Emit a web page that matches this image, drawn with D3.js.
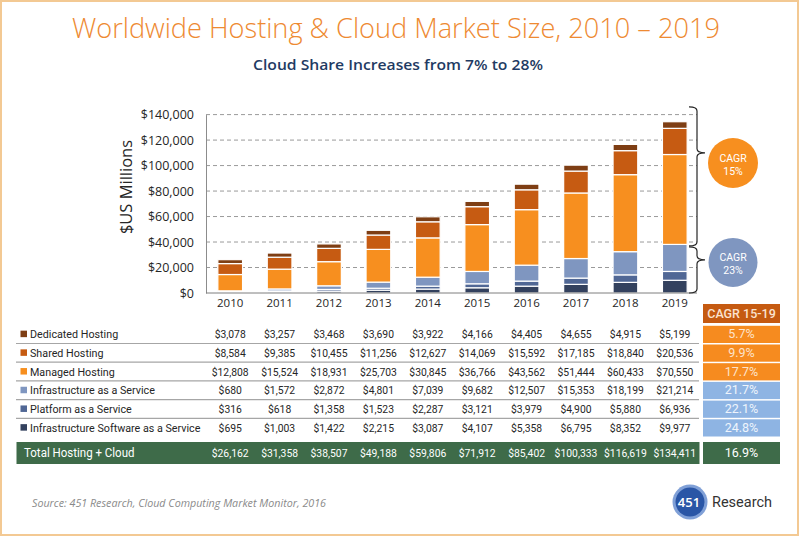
<!DOCTYPE html>
<html><head><meta charset="utf-8">
<script src="https://cdn.jsdelivr.net/npm/d3@7"></script>
<style>
html,body{margin:0;padding:0;background:#fff;}
svg{display:block;font-family:"Open Sans","Noto Sans",sans-serif;}
</style></head>
<body>
<script>
const years = [2010,2011,2012,2013,2014,2015,2016,2017,2018,2019];
const dedicatedHosting = [3078,3257,3468,3690,3922,4166,4405,4655,4915,5199];
const sharedHosting = [8584,9385,10455,11256,12627,14069,15592,17185,18840,20536];
const managedHosting = [12808,15524,18931,25703,30845,36766,43562,51444,60433,70550];
const iaas = [680,1572,2872,4801,7039,9682,12507,15353,18199,21214];
const paas = [316,618,1358,1523,2287,3121,3979,4900,5880,6936];
const isaas = [695,1003,1422,2215,3087,4107,5358,6795,8352,9977];
const totals = [26162,31358,38507,49188,59806,71912,85402,100333,116619,134411];
const seriesNames = ["Dedicated Hosting","Shared Hosting","Managed Hosting","Infrastructure as a Service","Platform as a Service","Infrastructure Software as a Service"];
const cagr = ["5.7%","9.9%","17.7%","21.7%","22.1%","24.8%"];
const totalCagr = "16.9%";
const yTicks = [0,20000,40000,60000,80000,100000,120000,140000];
const hostingCagr = "15%";
const cloudCagr = "23%";

const seriesValues = [dedicatedHosting, sharedHosting, managedHosting, iaas, paas, isaas];
const colors = ["#7E3E14","#C65B12","#F78F1F","#7F96C0","#506795","#33415E"];
const cagrFill = ["#F68B1F","#F68B1F","#F68B1F","#8EB4E3","#8EB4E3","#8EB4E3"];
const cagrText = ["#FDE3CC","#FDE3CC","#FDE3CC","#EEF4FC","#EEF4FC","#EEF4FC"];

const W = 800, H = 537;
const svg = d3.select("body").append("svg").attr("width", W).attr("height", H);

// border
svg.append("rect").attr("x",1).attr("y",1).attr("width",W-3).attr("height",H-3)
  .attr("fill","#fff").attr("stroke","#F3C993").attr("stroke-width",2);

// titles
svg.append("text").attr("x",396).attr("y",38).attr("text-anchor","middle")
  .attr("font-size",28).attr("font-weight",300).attr("fill","#EE8A32")
  .attr("textLength",648).attr("lengthAdjust","spacingAndGlyphs")
  .text("Worldwide Hosting & Cloud Market Size, 2010 – 2019");
svg.append("text").attr("x",398).attr("y",69.5).attr("text-anchor","middle")
  .attr("font-size",14.5).attr("font-weight",600).attr("fill","#1F3B63")
  .attr("textLength",290).attr("lengthAdjust","spacingAndGlyphs")
  .text("Cloud Share Increases from 7% to 28%");

// scales
const x = d3.scaleBand().domain(years).range([205.5,699.5]).paddingInner(0.5).paddingOuter(0.25);
const y = d3.scaleLinear().domain([0,140000]).range([293,114.6]);

// gridlines
svg.append("g").selectAll("line").data(yTicks.filter(d=>d>0)).join("line")
  .attr("x1",206).attr("x2",697).attr("y1",d=>y(d)).attr("y2",d=>y(d))
  .attr("stroke","#9A9A9A").attr("stroke-width",1).attr("stroke-dasharray","4,3");

// y axis
const yAxis = d3.axisLeft(y).tickValues(yTicks).tickSize(0).tickPadding(12)
  .tickFormat(d => "$" + d3.format(",")(d));
const gy = svg.append("g").attr("transform","translate(206,0)").call(yAxis);
gy.select(".domain").attr("stroke","#8C8C8C");
gy.selectAll("text").attr("font-size",12.5).attr("fill","#262626").attr("font-family","'Open Sans',sans-serif");

svg.append("text").attr("transform","translate(132,187) rotate(-90)").attr("text-anchor","middle")
  .attr("font-size",16.5).attr("fill","#262626").text("$US Millions");

// stacked bars
const table = years.map((yr,i)=>{
  const o = {year:yr};
  seriesNames.forEach((n,k)=>o[n]=seriesValues[k][i]);
  return o;
});
const stackKeys = seriesNames.slice().reverse();
const stacked = d3.stack().keys(stackKeys)(table);
svg.append("g").selectAll("g").data(stacked).join("g")
  .attr("fill", s => colors[seriesNames.indexOf(s.key)])
  .selectAll("rect").data(s=>s).join("rect")
  .attr("x", d=>x(d.data.year)).attr("width", x.bandwidth())
  .attr("y", d=>y(d[1])).attr("height", d=>y(d[0])-y(d[1]))
  .attr("stroke","#fff").attr("stroke-width",1.2);

// x baseline
svg.append("line").attr("x1",206).attr("x2",697).attr("y1",y(0)).attr("y2",y(0))
  .attr("stroke","#7F7F7F").attr("stroke-width",1);

// x axis labels
const xAxis = d3.axisBottom(x).tickSize(0).tickPadding(6);
const gx = svg.append("g").attr("transform",`translate(0,${y(0)})`).call(xAxis);
gx.select(".domain").remove();
gx.selectAll("text").attr("font-size",11.5).attr("fill","#262626").attr("font-family","'Open Sans',sans-serif");

// braces
const hostTop = 146000, hostMid = 110000;
const cloud2019 = iaas[9]+paas[9]+isaas[9];
const cloudMid = 26000;
const bx = 697;
function brace(y0, ym, y1){
  return `M${bx-8},${y0} Q${bx},${y0} ${bx},${y0+4} L${bx},${ym-4} Q${bx},${ym} ${bx+8},${ym} Q${bx},${ym} ${bx},${ym+4} L${bx},${y1-4} Q${bx},${y1} ${bx-8},${y1}`;
}
svg.append("path").attr("d",brace(y(hostTop),y(hostMid),y(cloud2019)+1.5))
  .attr("fill","none").attr("stroke","#262626").attr("stroke-width",1.2);
svg.append("path").attr("d",brace(y(cloud2019)+2.5,y(cloudMid),y(0)))
  .attr("fill","none").attr("stroke","#262626").attr("stroke-width",1.2);

// CAGR circles
const circ = [
  {cy:y(102000), r:25, fill:"#F78F1F", val:hostingCagr},
  {cy:y(24000), r:24.5, fill:"#7F96C0", val:cloudCagr}
];
circ.forEach(c=>{
  svg.append("circle").attr("cx",733).attr("cy",c.cy).attr("r",c.r).attr("fill",c.fill);
  svg.append("text").attr("x",733).attr("y",c.cy-1.5).attr("text-anchor","middle")
    .attr("font-size",10.5).attr("fill","#fff").attr("font-family","Roboto,sans-serif").text("CAGR");
  svg.append("text").attr("x",733).attr("y",c.cy+11.5).attr("text-anchor","middle")
    .attr("font-size",10.5).attr("fill","#fff").attr("font-family","Roboto,sans-serif").text(c.val);
});

// table
const rowTop = 324.8, rowH = 18.7;
const fmt = d => "$" + d3.format(",")(d);
const tbl = svg.append("g").attr("font-size",11.5).attr("fill","#262626").attr("font-family","Roboto,'Noto Sans',sans-serif");
function squeeze(sel, f){
  sel.each(function(){
    const L = this.getComputedTextLength();
    d3.select(this).attr("textLength", L*f).attr("lengthAdjust","spacingAndGlyphs");
  });
}

// CAGR header
tbl.append("rect").attr("x",703).attr("y",304).attr("width",77).attr("height",19).attr("fill","#C55A11");
tbl.append("text").attr("x",741.5).attr("y",318).attr("text-anchor","middle").attr("font-weight",500)
  .attr("fill","#FBE3CF").attr("font-size",12.5).text("CAGR 15-19");

seriesNames.forEach((name,k)=>{
  const top = rowTop + k*rowH, cy = top + rowH/2 + 4.2;
  tbl.append("rect").attr("x",20.5).attr("y",top+rowH/2-3.5).attr("width",6.5).attr("height",6.5).attr("fill",colors[k]);
  const lbl = tbl.append("text").attr("x",30).attr("y",cy).attr("fill","#262626")
    .attr("font-size",11.8).text(name);
  squeeze(lbl, 0.91);
  const vals = tbl.append("g").selectAll("text").data(seriesValues[k]).join("text")
    .attr("x",(d,i)=>x(years[i])+x.bandwidth()/2).attr("y",cy).attr("text-anchor","middle")
    .attr("fill","#262626").text(fmt);
  squeeze(vals, 0.9);
  if (k < seriesNames.length-1)
    tbl.append("line").attr("x1",16).attr("x2",699).attr("y1",top+rowH).attr("y2",top+rowH)
      .attr("stroke","#A6A6A6").attr("stroke-width",1.2);
  tbl.append("rect").attr("x",703).attr("y",top+1).attr("width",77).attr("height",rowH-1.5).attr("fill",cagrFill[k]);
  tbl.append("text").attr("x",741.5).attr("y",cy).attr("text-anchor","middle")
    .attr("fill",cagrText[k]).attr("font-size",12.5).text(cagr[k]);
});

// total row
tbl.append("rect").attr("x",16.5).attr("y",442).attr("width",683).attr("height",22).attr("fill","#3E6B49");
tbl.append("rect").attr("x",703).attr("y",442).attr("width",77).attr("height",22).attr("fill","#3E6B49");
const tl = tbl.append("text").attr("x",24).attr("y",457.3).attr("fill","#fff").attr("font-size",12.5).text("Total Hosting + Cloud");
squeeze(tl, 0.92);
const tv = tbl.append("g").selectAll("text").data(totals).join("text")
  .attr("x",(d,i)=>x(years[i])+x.bandwidth()/2).attr("y",457.3).attr("text-anchor","middle")
  .attr("fill","#fff").text(fmt);
squeeze(tv, 0.9);
tbl.append("text").attr("x",741.5).attr("y",457.3).attr("text-anchor","middle").attr("fill","#fff")
  .attr("font-size",12.5).text(totalCagr);

// source
svg.append("text").attr("x",32).attr("y",506.5).attr("font-size",11).attr("font-style","italic")
  .attr("fill","#8A8A8A").attr("textLength",294).attr("lengthAdjust","spacingAndGlyphs")
  .text("Source: 451 Research, Cloud Computing Market Monitor, 2016");

// logo
svg.append("circle").attr("cx",690).attr("cy",502).attr("r",17.5).attr("fill","#6A8FD0").attr("opacity",0.85);
svg.append("circle").attr("cx",690).attr("cy",502).attr("r",14.5).attr("fill","#2A56A6");
svg.append("text").attr("x",689).attr("y",507).attr("text-anchor","middle").attr("fill","#fff")
  .attr("font-size",13).attr("font-weight",600).text("451");
svg.append("text").attr("x",712).attr("y",507).attr("fill","#333").attr("font-size",14.5)
  .attr("font-family","Roboto,sans-serif").text("Research");
</script>
</body></html>
